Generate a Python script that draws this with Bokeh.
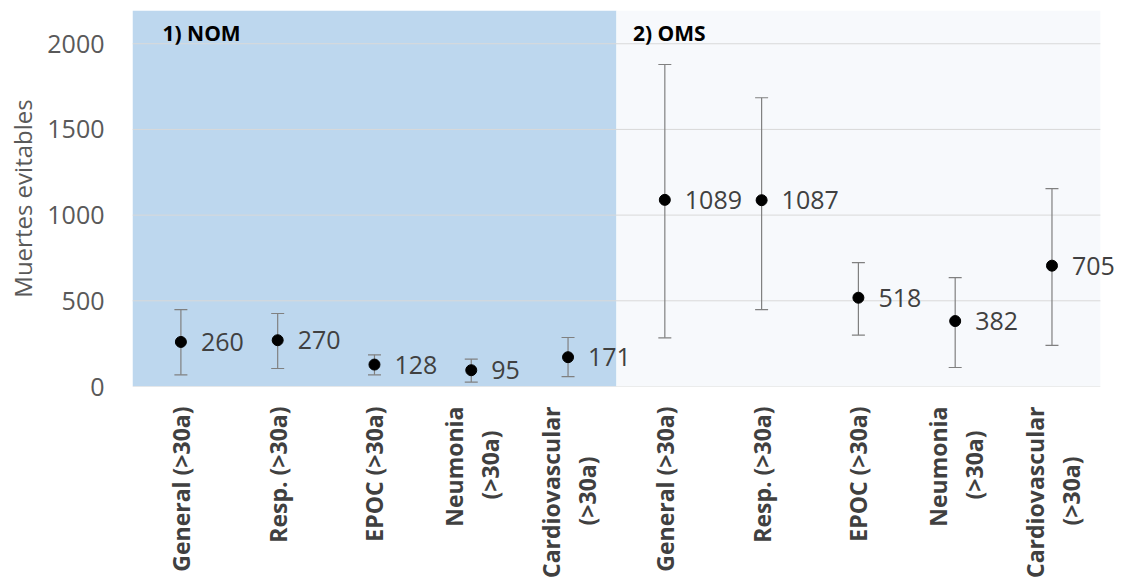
import math
import numpy as np
from bokeh.plotting import figure
from bokeh.layouts import column
from bokeh.models import (Range1d, FixedTicker, ColumnDataSource, Whisker, TeeHead, LabelSet)
from bokeh.core.properties import value
from bokeh.embed import file_html
from bokeh.resources import INLINE

# ---- data ----
categories = ["General (>30a)", "Resp. (>30a)", "EPOC (>30a)", "Neumonia\n(>30a)", "Cardiovascular\n(>30a)",
              "General (>30a)", "Resp. (>30a)", "EPOC (>30a)", "Neumonia\n(>30a)", "Cardiovascular\n(>30a)"]
groups = ["1) NOM", "2) OMS"]
central = [260, 270, 128, 95, 171, 1089, 1087, 518, 382, 705]
lower = [68, 105, 68, 26, 58, 284, 448, 300, 111, 240]
upper = [448, 426, 185, 160, 286, 1879, 1685, 723, 635, 1155]
y_ticks = [0, 500, 1000, 1500, 2000]

FONT = "Open Sans"
n = len(categories)
xs = [i + 0.5 for i in range(n)]
group_size = n // len(groups)
y_top = 2194
x_pad = 0.27  # room on the right for the last data label

W = 1129
p = figure(width=W, height=401, output_backend="svg", toolbar_location=None,
           x_range=Range1d(0, n + x_pad), y_range=Range1d(0, y_top), x_axis_location=None,
           min_border_top=10, min_border_bottom=15, min_border_left=132, min_border_right=3)
p.outline_line_color = None
p.background_fill_color = "white"
p.border_fill_color = "white"

# group backgrounds
p.quad(left=[0, group_size], right=[group_size, n], bottom=[0, 0], top=[y_top, y_top],
       fill_color=["#BDD7EE", "#F7F9FC"], line_color=None, level="image")

# grid lines (and the category axis line) limited to the category span
p.xgrid.visible = False
p.ygrid.visible = False
p.segment(x0=[0] * len(y_ticks), x1=[n] * len(y_ticks), y0=y_ticks, y1=y_ticks,
          line_color="#D9D9D9", line_width=1, level="underlay")

# y axis
p.yaxis.ticker = FixedTicker(ticks=y_ticks)
p.yaxis.axis_line_color = None
p.yaxis.major_tick_line_color = None
p.yaxis.major_tick_out = 0
p.yaxis.major_tick_in = 0
p.yaxis.minor_tick_line_color = None
p.yaxis.major_label_text_font = FONT
p.yaxis.major_label_text_font_size = "25px"
p.yaxis.major_label_text_color = "#595959"
p.yaxis.major_label_standoff = 28
p.yaxis.axis_label = "Muertes evitables"
p.yaxis.axis_label_text_font = FONT
p.yaxis.axis_label_text_font_size = "24px"
p.yaxis.axis_label_text_font_style = "normal"
p.yaxis.axis_label_text_color = "#595959"
p.yaxis.axis_label_standoff = 5

# error bars
src = ColumnDataSource(dict(x=xs, y=central, lo=lower, hi=upper,
                            lab=[str(v) for v in central]))
w = Whisker(base="x", upper="hi", lower="lo", source=src, dimension="height",
            line_color="#808080", line_width=1.2,
            upper_head=TeeHead(size=13, line_color="#808080", line_width=1.2),
            lower_head=TeeHead(size=13, line_color="#808080", line_width=1.2))
p.add_layout(w)

# points
p.scatter("x", "y", source=src, size=11, fill_color="black", line_color="black")

# data labels
p.add_layout(LabelSet(x="x", y="y", text="lab", source=src, x_offset=20,
                      text_align="left", text_baseline="middle",
                      text_font=value(FONT), text_font_size=value("25px"), text_color="#404040"))

# group titles
tsrc = ColumnDataSource(dict(x=[0.31, group_size + 0.17], y=[2060, 2060], t=groups))
p.add_layout(LabelSet(x="x", y="y", text="t", source=tsrc, text_align="left", text_baseline="middle",
                      text_font=value(FONT), text_font_size=value("21px"),
                      text_font_style="bold", text_color="black"))

# ---- category labels: a strip below the chart sharing its x range ----
short_line_shift = {"Neumonia": 24, "Cardiovascular": 50}  # centres the short 2nd line
lx, lt, lxo, lyo = [], [], [], []
for x, c in zip(xs, categories):
    lines = c.split("\n")
    if len(lines) == 1:
        lx.append(x); lt.append(c); lxo.append(0); lyo.append(5)
    else:
        lx += [x, x]
        lt += lines
        lxo += [-17, 19]
        lyo += [5, 5 + short_line_shift.get(lines[0], 0)]

q = figure(width=W, height=179, output_backend="svg", toolbar_location=None,
           x_range=p.x_range, y_range=Range1d(0, 1),
           x_axis_location=None, y_axis_location=None,
           min_border_top=0, min_border_bottom=0, min_border_left=132, min_border_right=3)
q.outline_line_color = None
q.xgrid.visible = False
q.ygrid.visible = False
q.background_fill_color = "white"
q.border_fill_color = "white"
lsrc = ColumnDataSource(dict(x=lx, y=[1] * len(lx), t=lt, xo=lxo, yo=lyo))
q.text("x", "y", text="t", source=lsrc, x_offset="xo", y_offset="yo", angle=math.pi / 2,
       text_align="right", text_baseline="middle",
       text_font=value(FONT), text_font_size=value("23px"), text_font_style="bold",
       text_color="#404040")

layout = column(p, q, spacing=0)
open("out.html", "w").write(file_html(layout, INLINE))
